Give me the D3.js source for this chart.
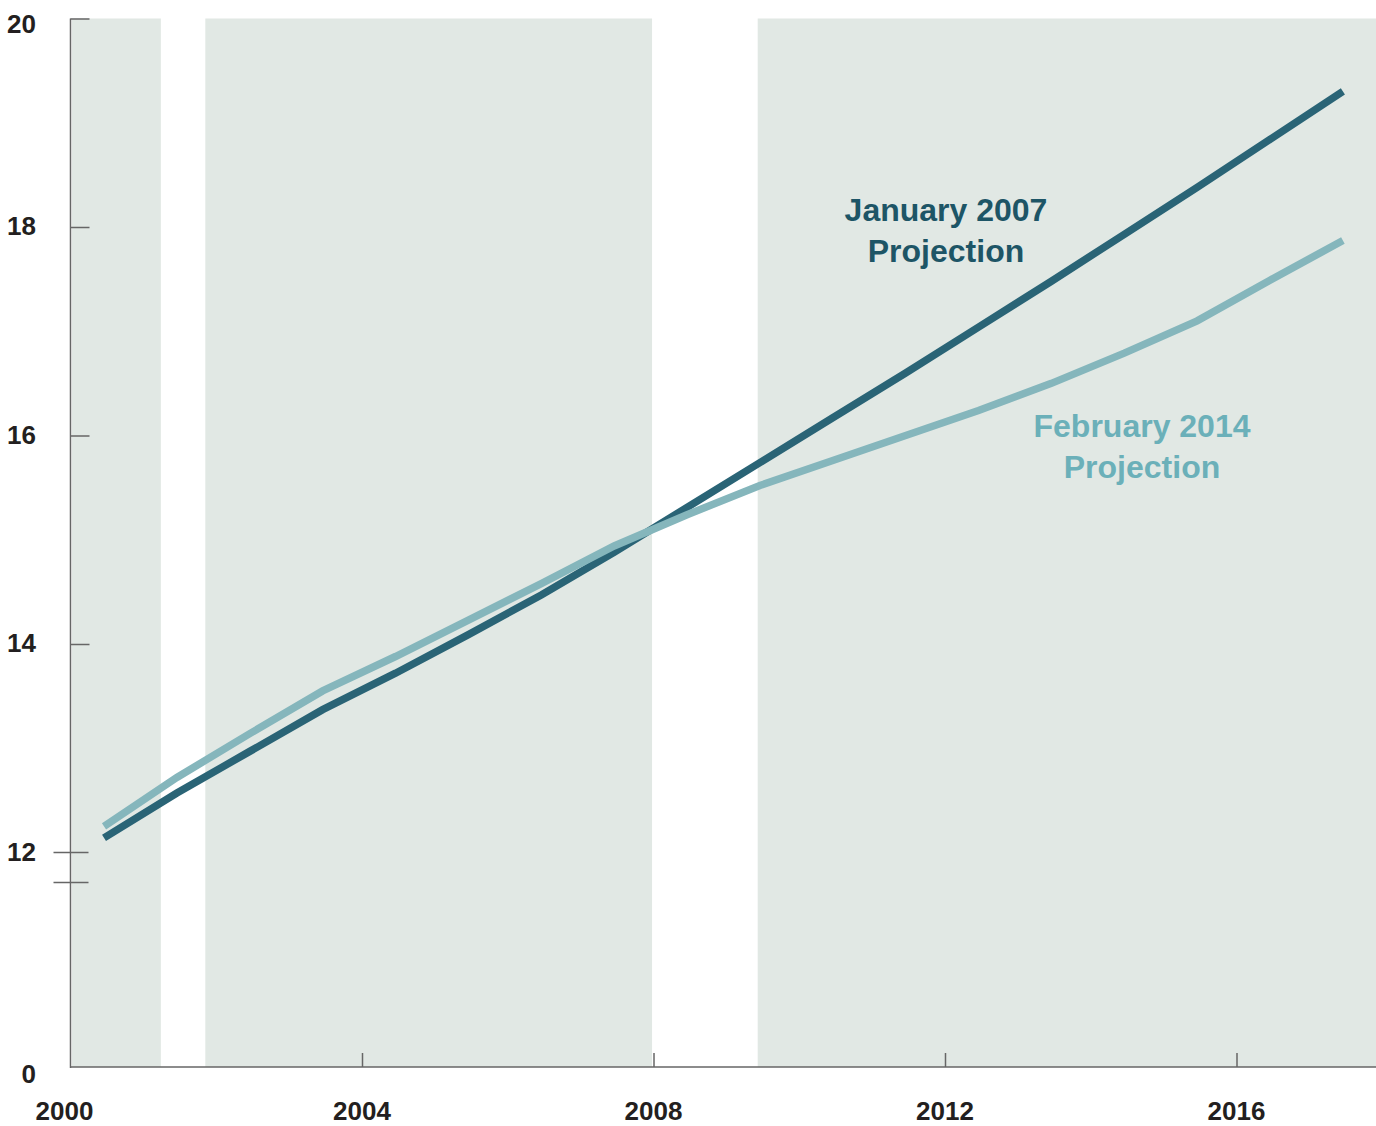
<!DOCTYPE html>
<html>
<head>
<meta charset="utf-8">
<script src="https://cdn.jsdelivr.net/npm/d3@7"></script>
<style>
  html, body { margin: 0; padding: 0; background: #fff; }
  svg { display: block; font-family: "Liberation Sans", Arial, sans-serif; }
  .tick-label { font-size: 26px; font-weight: bold; fill: #231f20; }
  .series-label { font-size: 32px; font-weight: bold; }
</style>
</head>
<body>
<div id="container"></div>
<script>
// years are plotted a little before mid-year
var years = [2000, 2001, 2002, 2003, 2004, 2005, 2006, 2007, 2008,
  2009, 2010, 2011, 2012, 2013, 2014, 2015, 2016, 2017];

var jan2007 = [12.14, 12.57, 12.97, 13.37, 13.72, 14.09, 14.47, 14.88, 15.31,
  15.74, 16.17, 16.60, 17.04, 17.48, 17.93, 18.38, 18.84, 19.30];

var feb2014 = [12.25, 12.72, 13.14, 13.55, 13.88, 14.23, 14.58, 14.94, 15.24,
  15.52, 15.76, 16.00, 16.24, 16.50, 16.79, 17.10, 17.49, 17.87];

// shaded periods (outside recessions)
var shadedBands = [[2000.02, 2001.24], [2001.85, 2007.98], [2009.43, 2018.5]];

var xTicks = [2000, 2004, 2008, 2012, 2016];
var yTicks = [0, 12, 14, 16, 18, 20];

var width = 1376;
var height = 1126;

var x = d3.scaleLinear().domain([2000, 2016]).range([70.5, 1236.5]);
// broken axis: 0 to 12 squeezed at the bottom
var y = d3.scaleLinear().domain([0, 12, 20]).range([1067, 852.5, 18.5]);

var svg = d3.select("#container")
  .append("svg")
  .attr("width", width)
  .attr("height", height);

svg.selectAll("rect.band")
  .data(shadedBands)
  .enter().append("rect")
  .attr("class", "band")
  .attr("x", function (d) { return x(d[0]); })
  .attr("y", y(20))
  .attr("width", function (d) { return x(d[1]) - x(d[0]); })
  .attr("height", y(0) - y(20))
  .attr("fill", "#e1e8e4");

// y axis
var yAxis = svg.append("g")
  .attr("transform", "translate(" + x(2000) + ",0)")
  .call(d3.axisRight(y).tickValues(yTicks.filter(function (v) { return v > 12; }))
    .tickSize(19).tickFormat(""));
yAxis.select(".domain").remove();
yAxis.selectAll(".tick line").attr("stroke", "#666").attr("stroke-width", 1.5);

svg.append("line")
  .attr("x1", x(2000)).attr("x2", x(2000))
  .attr("y1", y(20)).attr("y2", y(0) + 1)
  .attr("stroke", "#666").attr("stroke-width", 1.5);

// ticks that cross the axis: 12 and the break mark
svg.selectAll("line.cross")
  .data([y(12), y(12) + 30])
  .enter().append("line")
  .attr("class", "cross")
  .attr("x1", x(2000) - 17).attr("x2", x(2000) + 18)
  .attr("y1", function (d) { return d; })
  .attr("y2", function (d) { return d; })
  .attr("stroke", "#666").attr("stroke-width", 1.5);

svg.selectAll("text.ylab")
  .data(yTicks)
  .enter().append("text")
  .attr("class", "tick-label ylab")
  .attr("x", 36)
  .attr("y", function (d) { return y(d) + (d === 0 ? 16 : d === 20 ? 14 : 8); })
  .attr("text-anchor", "end")
  .text(function (d) { return d; });

// x axis
var xAxis = svg.append("g")
  .attr("transform", "translate(0," + y(0) + ")")
  .call(d3.axisTop(x).tickValues(xTicks.slice(1)).tickSize(14).tickFormat(""));
xAxis.select(".domain").remove();
xAxis.selectAll(".tick line").attr("stroke", "#666").attr("stroke-width", 1.5);

svg.append("line")
  .attr("x1", x(2000)).attr("x2", width)
  .attr("y1", y(0)).attr("y2", y(0))
  .attr("stroke", "#666").attr("stroke-width", 1.5);

svg.selectAll("text.xlab")
  .data(xTicks)
  .enter().append("text")
  .attr("class", "tick-label xlab")
  .attr("x", function (d) { return x(d) + (d === 2000 ? -6 : 0); })
  .attr("y", 1120)
  .attr("text-anchor", "middle")
  .text(function (d) { return d; });

// lines
var line = d3.line()
  .x(function (d) { return x(d[0] + 0.46); })
  .y(function (d) { return y(d[1]); });

function pairs(values) {
  return years.map(function (yr, i) { return [yr, values[i]]; });
}

svg.append("path")
  .datum(pairs(jan2007))
  .attr("d", line)
  .attr("fill", "none")
  .attr("stroke", "#2a6476")
  .attr("stroke-width", 7.5);

svg.append("path")
  .datum(pairs(feb2014))
  .attr("d", line)
  .attr("fill", "none")
  .attr("stroke", "#85b6bc")
  .attr("stroke-width", 7.5);

// series labels
function label(lines, cx, baseline, color) {
  var t = svg.append("text")
    .attr("class", "series-label")
    .attr("text-anchor", "middle")
    .attr("fill", color);
  lines.forEach(function (s, i) {
    t.append("tspan")
      .attr("x", cx)
      .attr("y", baseline + i * 41)
      .text(s);
  });
}

label(["January 2007", "Projection"], 946, 221, "#1d5566");
label(["February 2014", "Projection"], 1142, 437, "#6bb0b9");
</script>
</body>
</html>
